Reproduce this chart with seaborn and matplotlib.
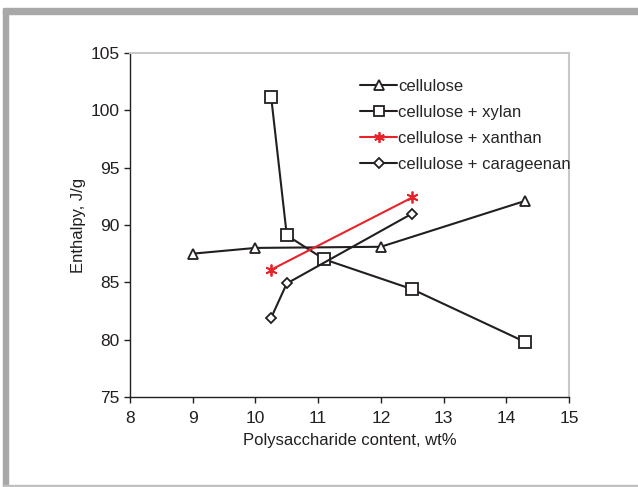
import numpy as np
import pandas as pd
import seaborn as sns
import matplotlib.pyplot as plt
from matplotlib.patches import Rectangle

# values
cellulose_x = [9.0, 10.0, 12.0, 14.3]
cellulose_y = [87.5, 88.0, 88.1, 92.1]

xylan_x = [10.25, 10.5, 11.1, 12.5, 14.3]
xylan_y = [101.2, 89.1, 87.0, 84.4, 79.8]

xanthan_x = [10.25, 12.5]
xanthan_y = [86.1, 92.4]

carageenan_x = [10.25, 10.5, 12.5]
carageenan_y = [81.9, 84.9, 91.0]

series_names = ["cellulose", "cellulose + xylan", "cellulose + xanthan", "cellulose + carageenan"]

frames = []
for name, xs, ys in zip(series_names,
                        [cellulose_x, xylan_x, xanthan_x, carageenan_x],
                        [cellulose_y, xylan_y, xanthan_y, carageenan_y]):
    frames.append(pd.DataFrame({"content": xs, "enthalpy": ys, "sample": name}))
df = pd.concat(frames, ignore_index=True)

sns.set_style("white")
plt.rcParams['font.family'] = ['Liberation Sans', 'DejaVu Sans']

fig = plt.figure(figsize=(6.38, 4.87), dpi=100)
ax = fig.add_axes([0.2038, 0.1848, 0.688, 0.7064])

palette = {"cellulose": "#231f20", "cellulose + xylan": "#231f20",
           "cellulose + xanthan": "#e8232a", "cellulose + carageenan": "#231f20"}
markers = {"cellulose": "^", "cellulose + xylan": "s",
           "cellulose + xanthan": (6, 2, 0), "cellulose + carageenan": "D"}
sizes = {"cellulose": 7.5, "cellulose + xylan": 8, "cellulose + xanthan": 8.5, "cellulose + carageenan": 5.5}

for name in series_names:
    sub = df[df["sample"] == name]
    sns.lineplot(data=sub, x="content", y="enthalpy", ax=ax, color=palette[name],
                 marker=markers[name], markersize=sizes[name],
                 markerfacecolor="white" if name != "cellulose + xanthan" else palette[name],
                 markeredgecolor=palette[name], markeredgewidth=1.3,
                 linewidth=1.5, label=name, sort=False, estimator=None)

ax.set_xlim(8, 15)
ax.set_ylim(75, 105)
ax.set_xticks(range(8, 16))
ax.set_yticks(range(75, 106, 5))
ax.set_xlabel("Polysaccharide content, wt%", fontsize=12, color="#231f20", labelpad=5)
ax.set_ylabel("Enthalpy, J/g", fontsize=12, color="#231f20", labelpad=3)
ax.tick_params(axis="both", labelsize=12.5, colors="#231f20", direction="out",
               length=4, width=1, bottom=True, left=True)
ax.tick_params(axis="x", pad=6)

for side in ["left", "bottom"]:
    ax.spines[side].set_color("#231f20")
    ax.spines[side].set_linewidth(1)
for side in ["top", "right"]:
    ax.spines[side].set_color("#c8c8c8")
    ax.spines[side].set_linewidth(1.5)

leg = ax.legend(loc="upper left", bbox_to_anchor=(0.506, 0.948), frameon=False,
                borderpad=0, fontsize=12, handlelength=2.2, handletextpad=0.08,
                labelspacing=0.66, markerscale=0.9)

# grey page frame around the figure
fig.patches.append(Rectangle((0.005, 0.0), 0.008, 0.98, transform=fig.transFigure,
                             color="#a8a8a8", zorder=0))
fig.patches.append(Rectangle((0.005, 0.972), 0.995, 0.012, transform=fig.transFigure,
                             color="#a8a8a8", zorder=0))
fig.patches.append(Rectangle((0.005, 0.0), 0.995, 0.004, transform=fig.transFigure,
                             color="#c0c0c0", zorder=0))

fig.savefig("out.png", dpi=100)
